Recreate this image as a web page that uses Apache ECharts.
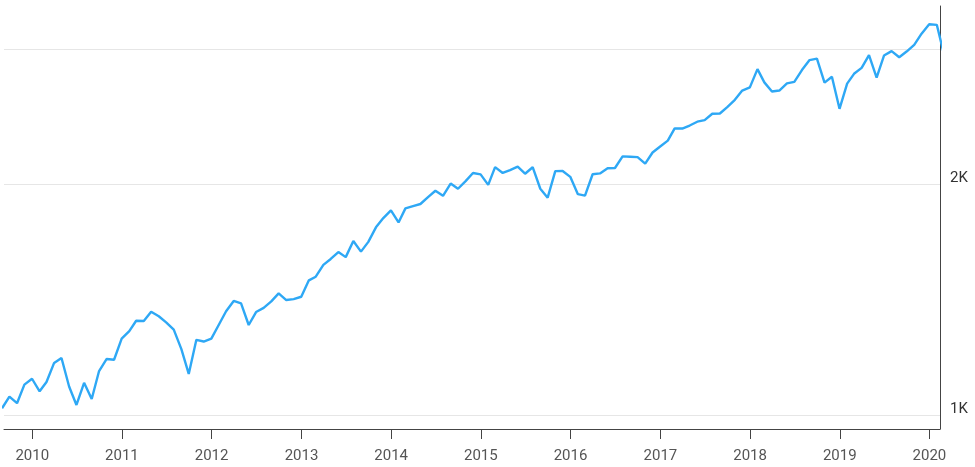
<!DOCTYPE html>
<html>
<head>
<meta charset="utf-8">
<script src="https://cdn.jsdelivr.net/npm/echarts@6/dist/echarts.min.js"></script>
<style>
html,body{margin:0;padding:0;background:#fff;}
#chart{width:975px;height:467px;}
</style>
</head>
<body>
<div id="chart"></div>
<script>
// Month-end observation months
const months = [
'2009-08','2009-09','2009-10','2009-11','2009-12',
'2010-01','2010-02','2010-03','2010-04','2010-05','2010-06','2010-07','2010-08','2010-09','2010-10','2010-11','2010-12',
'2011-01','2011-02','2011-03','2011-04','2011-05','2011-06','2011-07','2011-08','2011-09','2011-10','2011-11','2011-12',
'2012-01','2012-02','2012-03','2012-04','2012-05','2012-06','2012-07','2012-08','2012-09','2012-10','2012-11','2012-12',
'2013-01','2013-02','2013-03','2013-04','2013-05','2013-06','2013-07','2013-08','2013-09','2013-10','2013-11','2013-12',
'2014-01','2014-02','2014-03','2014-04','2014-05','2014-06','2014-07','2014-08','2014-09','2014-10','2014-11','2014-12',
'2015-01','2015-02','2015-03','2015-04','2015-05','2015-06','2015-07','2015-08','2015-09','2015-10','2015-11','2015-12',
'2016-01','2016-02','2016-03','2016-04','2016-05','2016-06','2016-07','2016-08','2016-09','2016-10','2016-11','2016-12',
'2017-01','2017-02','2017-03','2017-04','2017-05','2017-06','2017-07','2017-08','2017-09','2017-10','2017-11','2017-12',
'2018-01','2018-02','2018-03','2018-04','2018-05','2018-06','2018-07','2018-08','2018-09','2018-10','2018-11','2018-12',
'2019-01','2019-02','2019-03','2019-04','2019-05','2019-06','2019-07','2019-08','2019-09','2019-10','2019-11','2019-12',
'2020-01','2020-02'
];
const values = [
1020.62,1057.08,1036.19,1095.63,1115.10,
1073.87,1104.49,1169.43,1186.69,1089.41,1030.71,1101.60,1049.33,1141.20,1183.26,1180.55,1257.64,
1286.12,1327.22,1325.83,1363.61,1345.20,1320.64,1292.28,1218.89,1131.42,1253.30,1246.96,1257.60,
1312.41,1365.68,1408.47,1397.91,1310.33,1362.16,1379.32,1406.58,1440.67,1412.16,1416.18,1426.19,
1498.11,1514.68,1569.19,1597.57,1630.74,1606.28,1685.73,1632.97,1681.55,1756.54,1805.81,1848.36,
1782.59,1859.45,1872.34,1883.95,1923.57,1960.23,1930.67,2003.37,1972.29,2018.05,2067.56,2058.90,
1994.99,2104.50,2067.89,2085.51,2107.39,2063.11,2103.84,1972.18,1920.03,2079.36,2080.41,2043.94,
1940.24,1932.23,2059.74,2065.30,2096.95,2098.86,2173.60,2170.95,2168.27,2126.15,2198.81,2238.83,
2278.87,2363.64,2362.72,2384.20,2411.80,2423.41,2470.30,2471.65,2519.36,2575.26,2647.58,2673.61,
2823.81,2713.83,2640.87,2648.05,2705.27,2718.37,2816.29,2901.52,2913.98,2711.74,2760.17,2506.85,
2704.10,2784.49,2834.40,2945.83,2752.06,2941.76,2980.38,2926.46,2976.74,3037.56,3140.98,3230.78,
3225.52,2954.22
];
const yearTicks = ['2010','2011','2012','2013','2014','2015','2016','2017','2018','2019','2020'];
const yGridValues = [1000, 2000, 3000];
const yGridLabels = ['1K', '2K', ''];

function monthEnd(m) {
  const [y, mo] = m.split('-').map(Number);
  return new Date(y, mo, 0).getTime();
}
const seriesData = months.map((m, i) => [monthEnd(m), values[i]]);
const tickTimes = yearTicks.map(y => new Date(Number(y), 0, 1).getTime());

const chart = echarts.init(document.getElementById('chart'), null, {renderer: 'canvas'});
chart.setOption({
  animation: false,
  textStyle: {fontFamily: 'Roboto, sans-serif'},
  grid: {left: 4, right: 35, top: 6, bottom: 38, containLabel: false},
  xAxis: {
    type: 'value',
    min: new Date(2009, 8, 8).getTime(),
    max: new Date(2020, 1, 13).getTime(),
    axisLine: {show: true, onZero: false, lineStyle: {color: '#444', width: 1}},
    axisTick: {show: true, length: 10, lineStyle: {color: '#444'}, customValues: tickTimes},
    axisLabel: {
      customValues: tickTimes,
      color: '#555', fontSize: 15, margin: 20,
      formatter: v => String(new Date(v).getFullYear())
    },
    splitLine: {show: false}
  },
  yAxis: {
    type: 'log',
    position: 'right',
    min: 959,
    max: 3413,
    axisLine: {show: true, lineStyle: {color: '#444', width: 1}},
    axisTick: {show: false},
    axisLabel: {show: false},
    splitLine: {show: false}
  },
  series: [{
    type: 'line',
    data: seriesData,
    showSymbol: false,
    symbol: 'none',
    clip: true,
    z: 3,
    lineStyle: {color: '#2ea8f5', width: 2.4},
    itemStyle: {color: '#2ea8f5'},
    markLine: {
      silent: true,
      symbol: ['none', 'none'],
      z: 1,
      lineStyle: {color: '#e6e6e6', width: 1, type: 'solid'},
      label: {
        show: true,
        position: 'end',
        distance: 10,
        color: '#333',
        fontSize: 15,
        lineHeight: 12,
        verticalAlign: 'bottom',
        formatter: p => p.name
      },
      emphasis: {disabled: true},
      data: yGridValues.map((v, i) => ({yAxis: v, name: yGridLabels[i]}))
    }
  }]
});
</script>
</body>
</html>
